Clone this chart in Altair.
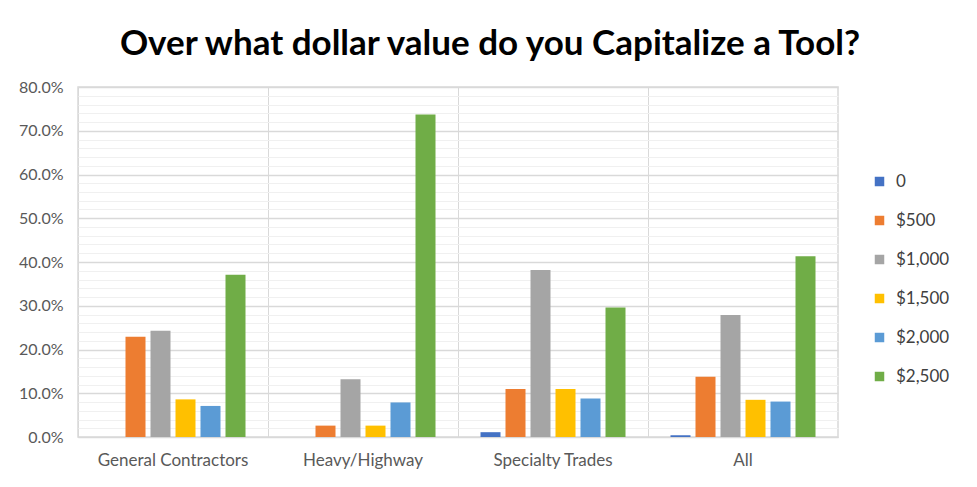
import altair as alt
import pandas as pd

categories = ["General Contractors", "Heavy/Highway", "Specialty Trades", "All"]
series = ["0", "$500", "$1,000", "$1,500", "$2,000", "$2,500"]
colors = ["#4472C4", "#ED7D31", "#A5A5A5", "#FFC000", "#5B9BD5", "#70AD47"]

gc_values = [0.0, 22.9, 24.3, 8.6, 7.1, 37.1]
hh_values = [0.0, 2.6, 13.2, 2.6, 7.9, 73.7]
st_values = [1.1, 11.0, 38.2, 11.0, 8.8, 29.6]
all_values = [0.4, 13.8, 27.9, 8.5, 8.1, 41.3]

y_ticks = list(range(0, 81, 2))

rows = []
for cat, vals in zip(categories, [gc_values, hh_values, st_values, all_values]):
    for s, v in zip(series, vals):
        rows.append({"category": cat, "series": s, "value": v})
df = pd.DataFrame(rows)

FONT = "Lato"
GRID = "#d9d9d9"

chart = alt.Chart(df).mark_bar().encode(
    x=alt.X("category:N", sort=categories, title=None,
            scale=alt.Scale(paddingInner=0, paddingOuter=0),
            axis=alt.Axis(labelAngle=0, labelFontSize=17, labelColor="#595959",
                          labelFont=FONT, ticks=False, labelPadding=15,
                          domainColor=GRID, grid=True, gridColor=GRID,
                          bandPosition=0)),
    xOffset=alt.XOffset("series:N", sort=series,
                        scale=alt.Scale(paddingInner=0.2, paddingOuter=0.9)),
    y=alt.Y("value:Q", title=None,
            scale=alt.Scale(domain=[0, 80], nice=False),
            axis=alt.Axis(values=y_ticks, ticks=False, domain=False,
                          labelFontSize=16, labelColor="#595959", labelFont=FONT,
                          labelPadding=15,
                          labelExpr="round(datum.value) % 10 === 0 ? format(datum.value / 100, '.1%') : ''",
                          gridColor={"expr": "round(datum.value) % 10 === 0 ? '#d9d9d9' : '#f0f0f0'"},
                          gridWidth={"expr": "round(datum.value) % 10 === 0 ? 1.5 : 1"})),
    color=alt.Color("series:N", sort=series,
                    scale=alt.Scale(domain=series, range=colors),
                    legend=alt.Legend(title=None, orient="none", legendX=793, legendY=86,
                                      symbolType="square", symbolSize=90,
                                      symbolStrokeWidth=0,
                                      labelFontSize=17, labelFont=FONT, labelColor="#404040",
                                      rowPadding=21, labelOffset=8)),
).properties(
    width=760,
    height=350,
    title=alt.TitleParams("Over what dollar value do you Capitalize a Tool?",
                          font=FONT, fontSize=35, fontWeight="bold", color="#000000",
                          anchor="middle", dx=32, offset=17),
    autosize=alt.AutoSizeParams(type="none"),
    padding={"left": 70, "top": 79, "right": 130, "bottom": 42},
).configure_view(stroke=GRID, strokeWidth=1.5)

chart.save("out.html", embed_options={"renderer": "svg", "actions": False})
